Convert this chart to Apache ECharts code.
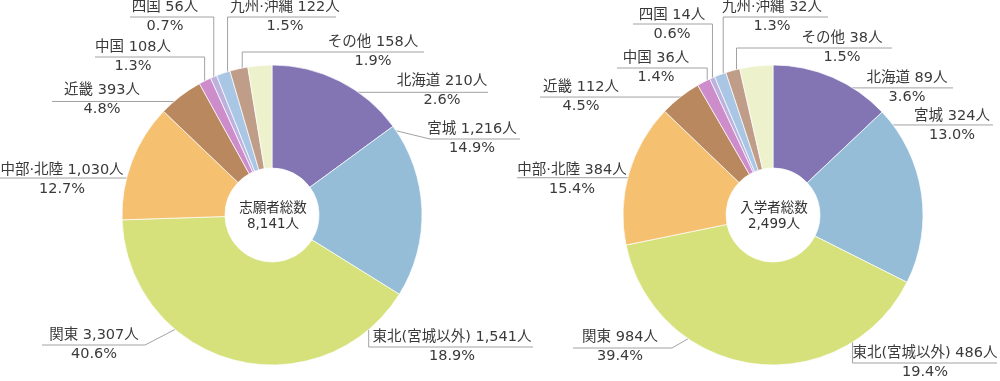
<!DOCTYPE html>
<html><head><meta charset="utf-8">
<script src="https://cdn.jsdelivr.net/npm/echarts@6/dist/echarts.min.js"></script>
<style>html,body{margin:0;padding:0;background:#fff}#c{width:1000px;height:381px}</style>
</head><body><div id="c"></div>
<script>
// ---- data ----
const regions = ['宮城','東北(宮城以外)','関東','中部·北陸','近畿','中国','四国','九州·沖縄','その他','北海道'];
const applicants = [1216,1541,3307,1030,393,108,56,122,158,210];
const enrollees  = [324,486,984,384,112,36,14,32,38,89];
const totalTitles = ['志願者総数','入学者総数'];

// ---- styles ----
const colors = ['#8374b4','#95bdd8','#d6e17c','#f5c06f','#b9885f','#cd8dca','#bdb1de','#a9c7e4','#c09d89','#edf2cd'];
const FONT = '"DejaVu Sans","Noto Sans CJK JP",sans-serif';
const pies = [{cx:272, cy:215}, {cx:773, cy:215}];
const R = 150, R0 = 47;

// ---- label layout (position of label block centre, leader line geometry) ----
// af/rf: where the leader line starts inside the slice (fraction of slice angle / radius)
const leftLayout = [
  {cx:472, cy:139, af:.93, rf:.92, t:'p', bx:430, by:139, x2:520},
  {cx:452, cy:347, af:.92, rf:.72, t:'v', y1:347, x2:533},
  {cx:94,  cy:345, af:.62, rf:.76, t:'p', bx:145, by:345, x2:42},
  {cx:62,  cy:180, af:.48, rf:.72, t:'h', x2:0},
  {cx:102, cy:100, af:.67, rf:.92, t:'h', x2:52},
  {cx:133, cy:57,  af:.28, rf:.97, t:'v', y1:57, x2:95},
  {cx:165, cy:17,  af:.22, rf:.97, t:'v', y1:17, x2:130},
  {cx:285, cy:17,  af:.72, rf:.97, t:'v', y1:17, x2:336},
  {cx:373, cy:52,  af:.64, rf:.97, t:'v', y1:52, x2:424},
  {cx:442, cy:91,  af:.55, rf:.82, t:'h', x2:488}
];
const rightLayout = [
  {cx:952, cy:126, af:.92, rf:.82, t:'h', x2:993},
  {cx:925, cy:363, af:.96, rf:.58, t:'v', y1:363, x2:997},
  {cx:620, cy:347, af:.66, rf:.87, t:'p', bx:672, by:348, x2:573},
  {cx:572, cy:180, af:.52, rf:.84, t:'h', x2:517},
  {cx:581, cy:97,  af:.75, rf:.95, t:'h', x2:540},
  {cx:656, cy:68,  af:.68, rf:.98, t:'v', y1:68, x2:617},
  {cx:672, cy:25,  af:.30, rf:.98, t:'v', y1:24, x2:633},
  {cx:772, cy:17,  af:.63, rf:.97, t:'v', y1:17, x2:828},
  {cx:842, cy:48,  af:.66, rf:.96, t:'v', y1:48, x2:892},
  {cx:907, cy:88,  af:.65, rf:.85, t:'h', x2:953}
];

function sumOf(a){ return a.reduce((s,v)=>s+v,0); }
function fmt(v){ return v.toLocaleString('en-US'); }

function startPoint(vals, i, pie, af, rf){
  const sum = sumOf(vals);
  let before = 0; for (let k=0;k<i;k++) before += vals[k];
  const th = (before + af*vals[i]) / sum * 2 * Math.PI;
  const r = R * rf;
  return [pie.cx + r*Math.sin(th), pie.cy - r*Math.cos(th)];
}

function makeSeries(vals, pie, layout){
  const sum = sumOf(vals);
  return {
    type:'pie',
    center:[pie.cx, pie.cy],
    radius:[R0, R],
    startAngle:90,
    clockwise:true,
    avoidLabelOverlap:false,
    silent:true,
    itemStyle:{borderColor:'#fff', borderWidth:0.7},
    emphasis:{disabled:true},
    data: regions.map((n,i)=>({name:n, value:vals[i]})),
    label:{
      show:true,
      position:'outside',
      color:'#3a3a3a',
      fontFamily:FONT,
      formatter: p => '{a|' + p.name + ' ' + fmt(p.value) + '人}\n{b|' + (p.value/sum*100).toFixed(1) + '%}',
      rich:{
        a:{fontSize:14.5, lineHeight:19, fontFamily:FONT, color:'#3a3a3a', align:'center'},
        b:{fontSize:14.5, lineHeight:19, fontFamily:FONT, color:'#3a3a3a', align:'center'}
      }
    },
    labelLine:{show:true, smooth:false, lineStyle:{color:'#8a8a8a', width:0.8}},
    labelLayout: function(params){
      const i = params.dataIndex;
      const L = layout[i];
      const s = startPoint(vals, i, pie, L.af, L.rf);
      let pts;
      if (L.t === 'h') pts = [s, [L.x2, s[1]]];
      else if (L.t === 'v') pts = [s, [s[0], L.y1], [L.x2, L.y1]];
      else pts = [s, [L.bx, L.by], [L.x2, L.by]];
      return {x:L.cx, y:L.cy, align:'center', verticalAlign:'middle', labelLinePoints:pts};
    }
  };
}

const chart = echarts.init(document.getElementById('c'), null, {renderer:'canvas'});
chart.setOption({
  animation:false,
  color: colors,
  series:[
    makeSeries(applicants, pies[0], leftLayout),
    makeSeries(enrollees, pies[1], rightLayout)
  ],
  graphic:[applicants, enrollees].map((vals, k)=>({
    type:'text',
    x: pies[k].cx + 1,
    y: pies[k].cy + 1,
    silent:true,
    style:{
      text: totalTitles[k] + '\n' + fmt(sumOf(vals)) + '人',
      fontSize:13.5, lineHeight:16, fontFamily:FONT,
      fill:'#333', align:'center', verticalAlign:'middle'
    }
  }))
});
</script>
</body></html>
